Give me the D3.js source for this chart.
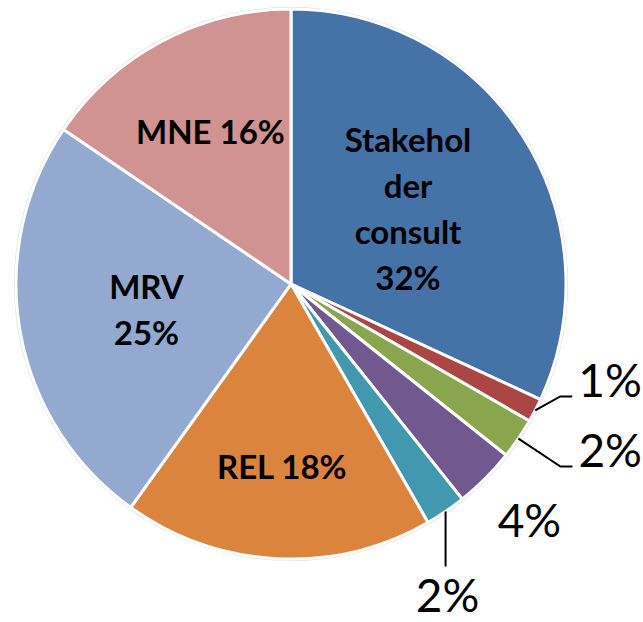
<!DOCTYPE html>
<html>
<head>
<meta charset="utf-8">
<script src="https://cdn.jsdelivr.net/npm/d3@7"></script>
<style>
  html, body { margin: 0; padding: 0; background: #fff; }
  svg { display: block; }
  .inner-label { font-family: Lato, "Open Sans", sans-serif; font-weight: 700; font-size: 33px; fill: #000; }
  .outer-label { font-family: Lato, "Open Sans", sans-serif; font-weight: 400; font-size: 46px; fill: #000; }
</style>
</head>
<body>
<div id="chart"></div>
<script>
// slices, clockwise from 12 o'clock
const categories = ['Stakeholder consult', 'Slice 2', 'Slice 3', 'Slice 4', 'Slice 5', 'REL', 'MRV', 'MNE'];
const values = [31.9, 1.4, 2.4, 3.6, 2.4, 18.2, 24.6, 15.5];
const percentLabels = ['32%', '1%', '2%', '4%', '2%', '18%', '25%', '16%'];
const nameLabels = [['Stakehol', 'der', 'consult'], null, null, null, null, ['REL'], ['MRV'], ['MNE']];
const colors = ['#4572a7', '#aa4643', '#89a54e', '#71588f', '#4198af', '#db843d', '#93a9cf', '#d19392'];

const width = 643;
const height = 622;
const cx = 291;
const cy = 284;
const radius = 275;

const svg = d3.select('#chart').append('svg')
  .attr('width', width)
  .attr('height', height);

const g = svg.append('g').attr('transform', `translate(${cx},${cy})`);

const pie = d3.pie().sort(null).value((d) => d.value);
const arc = d3.arc().innerRadius(0).outerRadius(radius);
const arcs = pie(values.map((v, i) => ({ name: categories[i], value: v, i })));

// faint outline around the pie
g.append('circle')
  .attr('r', radius + 1)
  .attr('fill', 'none')
  .attr('stroke', '#d9d9d9')
  .attr('stroke-width', 2);

g.selectAll('path.slice')
  .data(arcs)
  .join('path')
  .attr('class', 'slice')
  .attr('d', arc)
  .attr('fill', (d) => colors[d.data.i])
  .attr('stroke', '#fff')
  .attr('stroke-width', 3)
  .attr('stroke-linejoin', 'round');

// inside labels: distance from centre as a share of the radius
const insideRadius = { 0: 0.505, 5: 0.668, 6: 0.534, 7: 0.626 };
const lineHeight = 46;

arcs.forEach((d) => {
  const i = d.data.i;
  if (insideRadius[i] === undefined) return;
  const r = radius * insideRadius[i];
  const [x, y] = d3.arc().innerRadius(r).outerRadius(r).centroid(d);
  let lines = nameLabels[i].slice();
  if (i === 7 || i === 5) lines = [lines[0] + ' ' + percentLabels[i]];
  else lines.push(percentLabels[i]);
  const text = g.append('text')
    .attr('class', 'inner-label')
    .attr('text-anchor', 'middle')
    .attr('x', x)
    .attr('y', y - ((lines.length - 1) * lineHeight) / 2 + 12);
  lines.forEach((line, k) => {
    text.append('tspan')
      .attr('x', x)
      .attr('dy', k === 0 ? 0 : lineHeight)
      .text(line);
  });
});

// outside labels for the small slices
const outside = {
  1: { elbow: [25, -14], run: 12, label: [18, 1], anchor: 'start' },
  2: { elbow: [42, 28], run: 12, label: [18, 0], anchor: 'start' },
  3: { elbow: null, label: [44, 59], anchor: 'middle' },
  4: { elbow: [0, 55], run: 0, label: [2, 101], anchor: 'middle' }
};

const edgeArc = d3.arc().innerRadius(radius).outerRadius(radius);

arcs.forEach((d) => {
  const o = outside[d.data.i];
  if (!o) return;
  const [px, py] = edgeArc.centroid(d);
  let lx = px + o.label[0];
  let ly = py + o.label[1];
  if (o.elbow) {
    const ex = px + o.elbow[0];
    const ey = py + o.elbow[1];
    const pts = [[px, py], [ex, ey], [ex + o.run, ey]];
    g.append('path')
      .attr('d', d3.line()(pts))
      .attr('fill', 'none')
      .attr('stroke', '#000')
      .attr('stroke-width', 2);
    if (o.anchor === 'start') {
      lx = ex + o.run + 6;
      ly = ey + o.label[1];
    }
  }
  g.append('text')
    .attr('class', 'outer-label')
    .attr('text-anchor', o.anchor)
    .attr('x', lx)
    .attr('y', ly)
    .text(percentLabels[d.data.i]);
});
</script>
</body>
</html>
